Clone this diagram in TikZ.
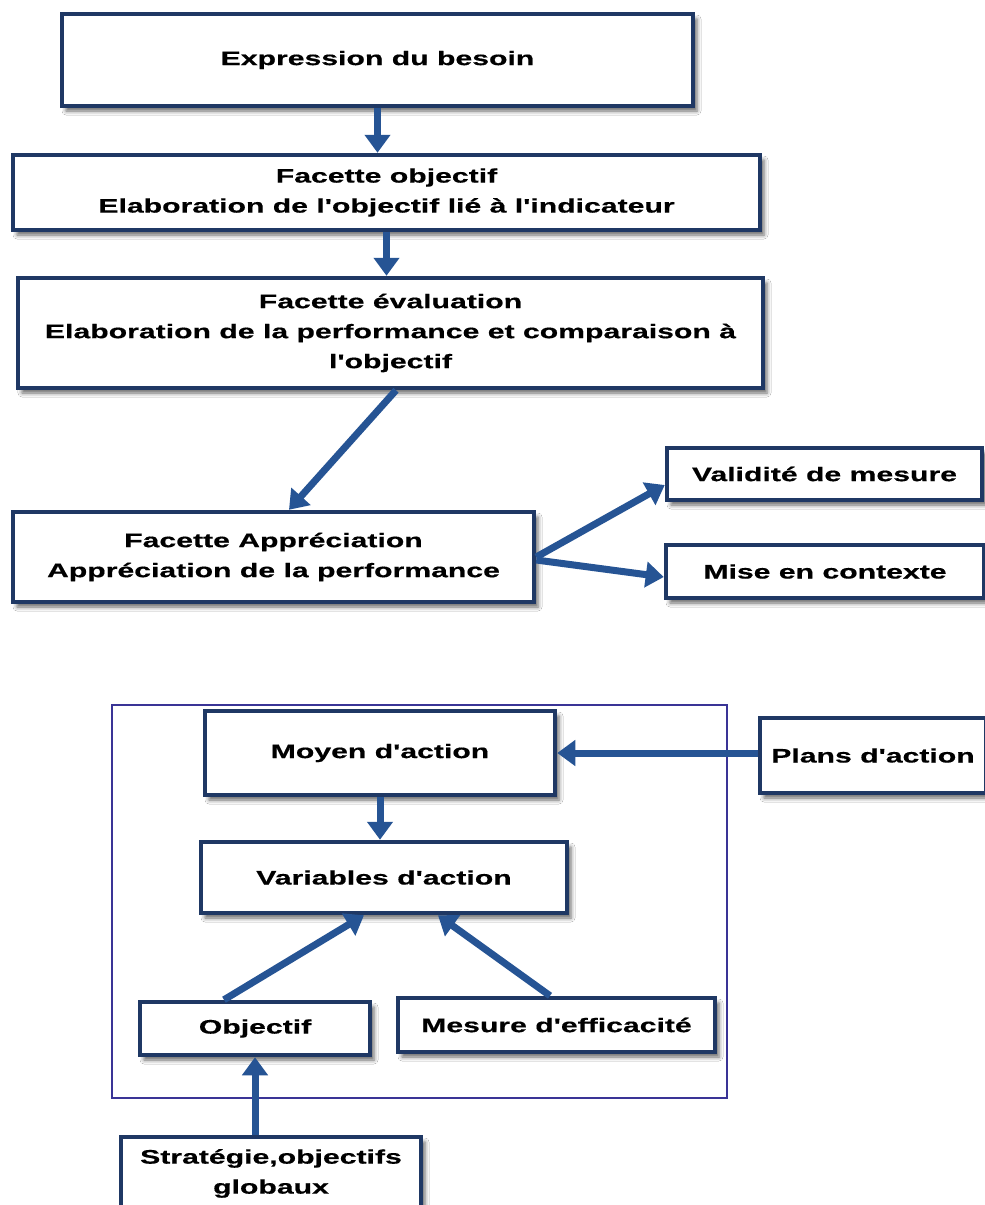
\documentclass[tikz,border=0pt]{standalone}
\usepackage{fontspec}
\usetikzlibrary{arrows.meta,shadows.blur}
\newfontfamily\labelfont{Liberation Sans}[FakeStretch=1.54, BoldFeatures={FakeBold=0.5}]
\newcommand\boxtext{\labelfont\bfseries\fontsize{19.6}{30}\selectfont}
\definecolor{boxline}{RGB}{31,56,100}
\definecolor{arrowblue}{RGB}{38,84,148}
\definecolor{framecol}{RGB}{58,52,150}
\tikzset{
  box/.style={draw=boxline, line width=4.5pt, fill=white, rectangle,
    inner sep=0pt, align=center, font=\boxtext,
    blur shadow={shadow xshift=4pt, shadow yshift=-5pt,
      shadow blur radius=4pt, shadow opacity=60}},
  arr/.style={draw=arrowblue, line width=7pt,
    -{Triangle[length=18pt,width=25pt]}},
  frame/.style={draw=framecol, line width=2.2pt}
}
\begin{document}
\begin{tikzpicture}[x=1pt,y=-1pt]
\useasboundingbox (0,0) rectangle (985,1205);
\clip (0,0) rectangle (985,1205);
\fill[white] (0,0) rectangle (985,1205);

% upper chain: the facets
\node[box, minimum width=631pt, minimum height=92pt] (besoin) at (377.5,60) {Expression du besoin};
\node[box, minimum width=747pt, minimum height=75pt] (objectif) at (386.5,192.5)
  {Facette objectif\\Elaboration de l'objectif lié à l'indicateur};
\node[box, minimum width=745pt, minimum height=110pt] (evaluation) at (390.5,333)
  {Facette évaluation\\Elaboration de la performance et comparaison à\\l'objectif};
\node[box, minimum width=521pt, minimum height=90pt] (appreciation) at (273.5,557)
  {Facette Appréciation\\Appréciation de la performance};
\node[box, minimum width=315pt, minimum height=52pt] (validite) at (824.5,474) {Validité de mesure};
\node[box, minimum width=318pt, minimum height=53pt] (contexte) at (825,571.5) {Mise en contexte};

\draw[arr] (besoin.south) -- (besoin.south |- objectif.north);
\draw[arr] (objectif.south) -- (objectif.south |- evaluation.north);
\draw[arr] ([xshift=5.5pt]evaluation.south) -- ([xshift=15.5pt]appreciation.north);
\draw[arr] (appreciation.east) -- ([yshift=-11pt]validite.west);
\draw[arr] ([yshift=-3pt]appreciation.east) -- ([yshift=-5.5pt]contexte.west);

% lower part: the action model inside its frame
\draw[frame] (112,705) rectangle (727,1098);
\node[box, minimum width=350pt, minimum height=84pt] (moyen) at (380,753) {Moyen d'action};
\node[box, minimum width=226pt, minimum height=75pt] (plans) at (873,755.5) {Plans d'action};
\node[box, minimum width=366pt, minimum height=71pt] (variables) at (384,877.5) {Variables d'action};
\node[box, minimum width=230pt, minimum height=53pt] (obj) at (255,1028.5) {Objectif};
\node[box, minimum width=317pt, minimum height=54pt] (mesure) at (556.5,1025) {Mesure d'efficacité};
\node[box, minimum width=300pt, minimum height=73pt] (strategie) at (271,1173.5)
  {Stratégie,objectifs\\globaux};

\draw[arr] (moyen.east -| plans.west) -- (moyen.east);
\draw[arr] (moyen.south) -- (moyen.south |- variables.north);
\draw[arr] ([xshift=-31pt]obj.north) -- ([xshift=-20pt]variables.south);
\draw[arr] ([xshift=-6.5pt]mesure.north) -- ([xshift=54pt]variables.south);
\draw[arr] (strategie.north -| obj.south) -- (obj.south);
\end{tikzpicture}
\end{document}
